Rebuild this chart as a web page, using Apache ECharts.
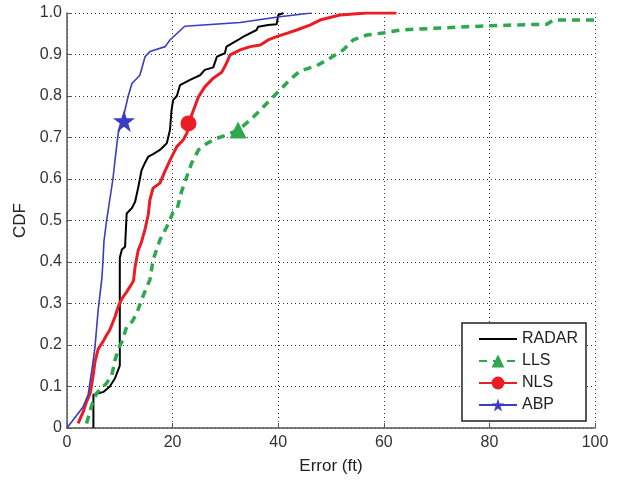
<!DOCTYPE html>
<html>
<head>
<meta charset="utf-8">
<script src="https://cdn.jsdelivr.net/npm/echarts@6/dist/echarts.min.js"></script>
<style>html,body{margin:0;padding:0;background:#fff;}#c{width:624px;height:486px;}</style>
</head>
<body>
<div id="c"></div>
<script>
// ---- data (x = error in ft, y = CDF) ----
const xTicks = [0, 20, 40, 60, 80, 100];
const yTicks = [0, 0.1, 0.2, 0.3, 0.4, 0.5, 0.6, 0.7, 0.8, 0.9, 1.0];
const seriesNames = ['RADAR', 'LLS', 'NLS', 'ABP'];

const radar = [[5,0],[5,0.08],[6.9,0.087],[8.1,0.10],[9.1,0.12],[9.7,0.14],[10,0.15],[10,0.41],[10.4,0.43],[11,0.437],[11.3,0.517],[12.3,0.53],[12.9,0.545],[13.5,0.58],[14.1,0.62],[14.8,0.64],[15.4,0.654],[16.3,0.66],[17.6,0.67],[18.9,0.686],[19.5,0.718],[19.8,0.766],[20.1,0.79],[20.8,0.80],[21.4,0.826],[23.3,0.839],[25.2,0.85],[26.1,0.863],[27.7,0.869],[28.4,0.895],[29.9,0.903],[30.2,0.919],[32.4,0.935],[33.4,0.943],[35.9,0.959],[36.2,0.967],[38.1,0.971],[39.7,0.973],[40.0,0.995],[41.0,1.0]];

const lls = [[3.7,0.011],[4.7,0.055],[5.6,0.084],[7.5,0.108],[8.5,0.128],[9.1,0.164],[9.7,0.19],[10.4,0.208],[11.3,0.244],[12.3,0.256],[13.2,0.276],[14.1,0.308],[15.1,0.34],[15.7,0.357],[16.3,0.405],[17.6,0.453],[18.9,0.485],[20.1,0.52],[20.8,0.525],[21.7,0.57],[22.7,0.606],[23.6,0.638],[24.9,0.67],[26.5,0.686],[28.4,0.698],[30.2,0.706],[32.4,0.718],[34.7,0.742],[36.6,0.766],[38.4,0.79],[40.3,0.814],[42.2,0.839],[44.1,0.86],[47.3,0.873],[49.8,0.891],[52.3,0.911],[54.2,0.935],[56.8,0.947],[59.9,0.952],[63.1,0.959],[69.4,0.963],[75.7,0.967],[80.1,0.969],[84.5,0.971],[90.9,0.973],[92.1,0.983],[100,0.983]];

const nls = [[2.1,0.011],[3.1,0.04],[3.7,0.063],[4.4,0.084],[5.0,0.13],[5.3,0.16],[5.9,0.19],[6.9,0.21],[7.5,0.224],[8.1,0.236],[9.1,0.268],[9.7,0.292],[10.4,0.312],[11.3,0.328],[11.9,0.34],[12.6,0.355],[12.9,0.389],[13.5,0.429],[14.1,0.448],[14.8,0.48],[15.4,0.515],[15.7,0.55],[16.3,0.578],[17.6,0.59],[18.6,0.62],[19.5,0.645],[20.8,0.678],[22.0,0.694],[22.7,0.71],[23.2,0.74],[24.2,0.774],[24.9,0.798],[26.1,0.822],[27.7,0.843],[29.3,0.857],[30.2,0.879],[30.9,0.899],[32.8,0.911],[34.7,0.919],[36.6,0.923],[38.1,0.935],[39.7,0.943],[41.6,0.951],[43.5,0.959],[46.0,0.971],[47.9,0.983],[51.7,0.995],[56.8,1.0],[62.4,1.0]];

const abp = [[0,0],[3,0.05],[4,0.08],[4.9,0.157],[5.3,0.195],[5.9,0.284],[6.6,0.36],[6.8,0.40],[7.0,0.45],[7.5,0.50],[8.1,0.55],[8.7,0.60],[9.1,0.646],[9.7,0.71],[10.5,0.74],[11.6,0.80],[12.3,0.83],[13.8,0.85],[14.8,0.895],[15.7,0.907],[18.6,0.919],[19.5,0.935],[22.3,0.968],[32.8,0.977],[40.3,0.991],[46.3,1.0]];

// marker positions (one marker per curve)
const llsMarker = [32.4, 0.718];
const nlsMarker = [23.0, 0.734];
const abpMarker = [10.8, 0.74];

const STAR = 'path://M50,0 L61.8,35.4 L99,35.4 L68.9,57.3 L80.4,92.7 L50,70.8 L19.6,92.7 L31.1,57.3 L1,35.4 L38.2,35.4 Z';

function noSym(arr){ return arr.map(p => ({value: p, symbol: 'none'})); }

function mkSeries(name, data, color, width, dash, symbol, symSize, marker){
  const s = {
    name: name, type: 'line', data: noSym(data),
    symbol: symbol, symbolSize: symSize, showSymbol: true,
    lineStyle: {color: color, width: width, type: dash},
    itemStyle: {color: color, borderWidth: 0},
    emphasis: {disabled: true},
    animation: false, z: 3
  };
  if (marker) {
    s.markPoint = {
      symbol: symbol, symbolSize: symSize, animation: false,
      label: {show: false},
      itemStyle: {color: color},
      data: [{coord: marker}]
    };
  }
  return s;
}

const chart = echarts.init(document.getElementById('c'), null, {renderer: 'canvas'});
chart.setOption({
  backgroundColor: '#fff',
  animation: false,
  grid: {left: 67, right: 29, top: 13, bottom: 58, containLabel: false},
  xAxis: {
    type: 'value', min: xTicks[0], max: xTicks[xTicks.length-1], interval: 20,
    name: 'Error (ft)', nameLocation: 'middle', nameGap: 30,
    nameTextStyle: {fontFamily: 'Liberation Sans, Arial, sans-serif', fontSize: 17, color: '#222'},
    axisLine: {show: true, lineStyle: {color: '#555', width: 1.5}},
    axisTick: {show: true, inside: true, length: 5, lineStyle: {color: '#555'}},
    axisLabel: {fontFamily: 'Liberation Sans, Arial, sans-serif', fontSize: 16, color: '#333', margin: 7},
    splitLine: {show: true, lineStyle: {color: '#333', type: [1, 3], width: 1}}
  },
  yAxis: {
    type: 'value', min: yTicks[0], max: yTicks[yTicks.length-1], interval: 0.1,
    name: 'CDF', nameLocation: 'middle', nameGap: 38,
    nameTextStyle: {fontFamily: 'Liberation Sans, Arial, sans-serif', fontSize: 17, color: '#222'},
    axisLine: {show: true, lineStyle: {color: '#555', width: 1.5}},
    axisTick: {show: true, inside: true, length: 5, lineStyle: {color: '#555'}},
    axisLabel: {fontFamily: 'Liberation Sans, Arial, sans-serif', fontSize: 16, color: '#333', margin: 5,
      formatter: v => (Math.abs(v) < 1e-9 ? '0' : v.toFixed(1))},
    splitLine: {show: true, lineStyle: {color: '#333', type: [1, 3], width: 1}}
  },
  legend: {
    data: [
      {name: seriesNames[0], itemStyle: {opacity: 0}},
      {name: seriesNames[1]},
      {name: seriesNames[2]},
      {name: seriesNames[3]}
    ],
    orient: 'vertical', left: 462, top: 323,
    backgroundColor: '#fff', borderColor: '#222', borderWidth: 1.5,
    padding: [8, 8, 8, 16], itemWidth: 38, itemHeight: 16, itemGap: 6,
    textStyle: {fontFamily: 'Liberation Sans, Arial, sans-serif', fontSize: 16, color: '#222'},
    selectedMode: false
  },
  series: [
    mkSeries('RADAR', radar, '#000000', 2, 'solid', 'none', 0, null),
    mkSeries('LLS', lls, '#2ea84e', 3.5, [8, 6], 'triangle', 17, llsMarker),
    mkSeries('NLS', nls, '#ec1c24', 3, 'solid', 'circle', 16, nlsMarker),
    mkSeries('ABP', abp, '#3b3bc4', 1.6, 'solid', STAR, 22, abpMarker)
  ]
});
</script>
</body>
</html>
